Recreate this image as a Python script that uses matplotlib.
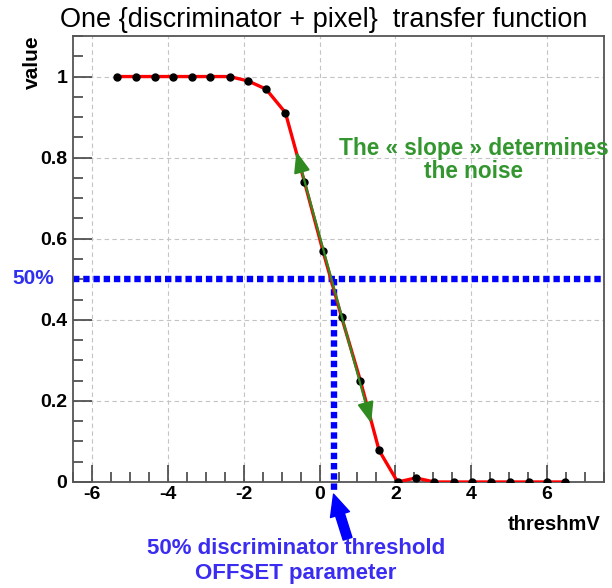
import matplotlib
matplotlib.use("Agg")
import matplotlib.pyplot as plt
from matplotlib.ticker import MultipleLocator

# scan points: threshold (mV) vs fraction of hits
thresh_mv = [-5.35, -4.84, -4.35, -3.86, -3.37, -2.88, -2.37, -1.88, -1.41, -0.90,
             -0.40, 0.09, 0.58, 1.08, 1.57, 2.06, 2.54, 3.03, 3.54, 4.02,
             4.52, 5.01, 5.51, 6.00, 6.48]
value = [1.0, 1.0, 1.0, 1.0, 1.0, 1.0, 1.0, 0.989, 0.969, 0.911,
         0.741, 0.570, 0.407, 0.249, 0.078, 0.0, 0.01, 0.0, 0.0, 0.0,
         0.0, 0.0, 0.0, 0.0, 0.0]

offset_mv = 0.39      # 50% point
half_level = 0.5
slope_start = (-0.61, 0.815)
slope_end = (1.36, 0.145)

plt.rcParams['font.family'] = ['Liberation Sans', 'DejaVu Sans']
plt.rcParams['axes.unicode_minus'] = False

fig = plt.figure(figsize=(6.12, 5.88), dpi=100)
ax = fig.add_axes([73 / 612, 1 - 482 / 588, 531 / 612, 446 / 588])

ax.set_xlim(-6.5, 7.5)
ax.set_ylim(0, 1.1)

ax.grid(True, color='#c4c4c4', linestyle=(0, (4, 3)), linewidth=0.8)
ax.set_axisbelow(True)

# blue 50% guide lines
ax.plot([-6.5, 7.5], [half_level, half_level], color='#0000ff', lw=4.6,
        linestyle=(0, (1, 0.6)), dash_capstyle='butt', clip_on=False, zorder=2)
ax.plot([offset_mv, offset_mv], [half_level, -0.025], color='#0000ff', lw=4.6,
        linestyle=(0, (1, 0.6)), dash_capstyle='butt', clip_on=False, zorder=2)

ax.plot(thresh_mv, value, color='#ff0000', lw=2.4, zorder=3,
        marker='o', markersize=5, markerfacecolor='black', markeredgecolor='black')

# slope arrow
ax.annotate('', xy=slope_start, xytext=slope_end,
            arrowprops=dict(arrowstyle='<|-|>,head_length=0.9,head_width=0.35',
                            color='#2f8a1f', lw=1.6, mutation_scale=14,
                            shrinkA=0, shrinkB=0), zorder=4)

# offset arrow under the axis
ax.annotate('', xy=(0.37, -0.03), xytext=(0.74, -0.14),
            arrowprops=dict(arrowstyle='simple,head_length=0.7,head_width=0.65,tail_width=0.3',
                            color='#0000ff', mutation_scale=22, shrinkA=0, shrinkB=0),
            annotation_clip=False)

ax.xaxis.set_major_locator(MultipleLocator(2))
ax.xaxis.set_minor_locator(MultipleLocator(0.5))
ax.yaxis.set_minor_locator(MultipleLocator(0.05))
ax.set_yticks([0, 0.2, 0.4, 0.6, 0.8, 1.0])
ax.set_yticklabels(['0', '0.2', '0.4', '0.6', '0.8', '1'])

ax.tick_params(which='major', direction='in', length=14, width=1.2, color='#444444',
               labelsize=14, pad=4)
ax.tick_params(axis='x', which='major', length=12, pad=3)
ax.tick_params(which='minor', direction='in', length=7, width=1.2, color='#444444')
for lab in ax.get_xticklabels() + ax.get_yticklabels():
    lab.set_fontweight('bold')

for side in ['left', 'bottom', 'right', 'top']:
    ax.spines[side].set_color('#555555')
    ax.spines[side].set_linewidth(1.3)

fig.text(324 / 612, 1 - 20 / 588, 'One {discriminator + pixel}  transfer function',
         ha='center', va='center', fontsize=19.5)
fig.text(32 / 612, 1 - 62 / 588, 'value', rotation=90, ha='center', va='center',
         fontsize=15, fontweight='bold')
fig.text(601 / 612, 1 - 524 / 588, 'threshmV', ha='right', va='center',
         fontsize=14.5, fontweight='bold')
fig.text(33 / 612, 1 - 279 / 588, '50%', ha='center', va='center',
         fontsize=15, fontweight='bold', color='#3030f0')
fig.text(474 / 612, 1 - 160 / 588, 'The \u00ab slope \u00bb determines\nthe noise',
         ha='center', va='center', fontsize=16.3, fontweight='bold',
         color='#33962f', linespacing=1.05)
fig.text(296 / 612, 1 - 549 / 588, '50% discriminator threshold',
         ha='center', va='center', fontsize=16, fontweight='bold', color='#3a2cf0')
fig.text(296 / 612, 1 - 574 / 588, 'OFFSET parameter',
         ha='center', va='center', fontsize=16, fontweight='bold', color='#3a2cf0')

fig.savefig('out.png', dpi=100)
